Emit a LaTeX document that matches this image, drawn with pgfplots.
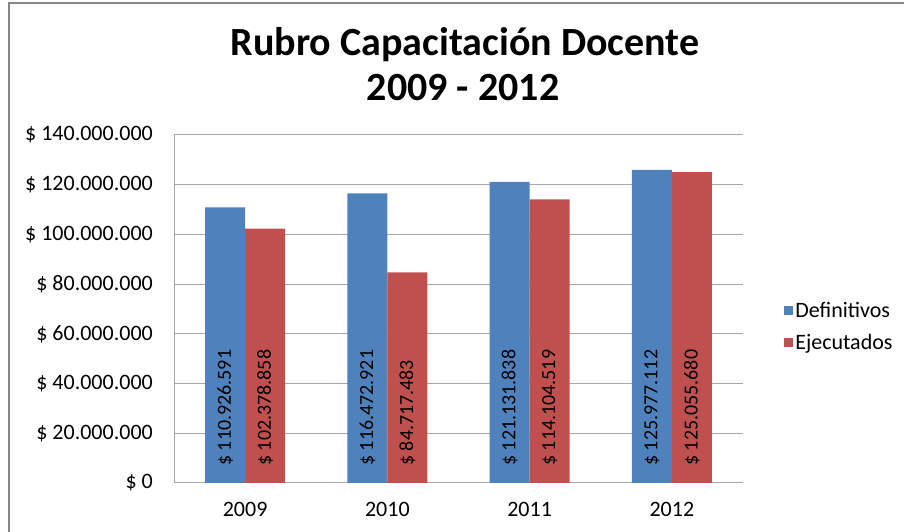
\documentclass[border=0pt]{standalone}
\usepackage{pgfplots}
\pgfplotsset{compat=1.18}
\usepackage{pgfplotstable}
\usepackage{fontspec}
\setmainfont{Carlito}
\definecolor{defblue}{HTML}{4F81BD}
\definecolor{ejered}{HTML}{C0504D}
\definecolor{gridgray}{HTML}{A6A6A6}
\definecolor{framegray}{HTML}{868686}

\pgfplotstableread{
x y label
0 110.926591 110.926.591
1 116.472921 116.472.921
2 121.131838 121.131.838
3 125.977112 125.977.112
}\definitivos
\pgfplotstableread{
x y label
0 102.378858 102.378.858
1 84.717483 84.717.483
2 114.104519 114.104.519
3 125.055680 125.055.680
}\ejecutados

\begin{document}
\begin{tikzpicture}[x=1pt,y=1pt]
\useasboundingbox (0,0) rectangle (904,532);
\draw[framegray, line width=2pt] (9,0) -- (9,529) -- (904,529);
\node[font=\fontsize{40}{45}\selectfont\bfseries, anchor=base, inner sep=0pt] at (465,476) {Rubro Capacitación Docente};
\node[font=\fontsize{40}{45}\selectfont\bfseries, anchor=base, inner sep=0pt] at (463,431) {2009 - 2012};
\begin{axis}[
 at={(174pt,49pt)}, anchor=south west,
 scale only axis, width=569pt, height=348pt,
 xmin=-0.5, xmax=3.5, ymin=0, ymax=140,
 ybar=0pt, bar width=40pt,
 xtick={0,1,2,3}, xticklabels={2009,2010,2011,2012},
 ytick={0,20,40,60,80,100,120,140},
 yticklabels={\$ 0,\$ 20.000.000,\$ 40.000.000,\$ 60.000.000,\$ 80.000.000,\$ 100.000.000,\$ 120.000.000,\$ 140.000.000},
 ymajorgrids, grid style={gridgray, line width=1pt},
 axis x line*=bottom, axis y line*=left,
 axis line style={gridgray, line width=1pt, -},
 major tick length=0pt,
 tick style={draw=none},
 ticklabel style={font=\fontsize{22}{26}\selectfont, inner sep=0pt},
 yticklabel style={anchor=east, xshift=-21pt},
 xticklabel style={anchor=north, yshift=-19pt},
 legend style={at={(1.067,0.450)}, anchor=west, draw=none, fill=none, font=\fontsize{22}{26}\selectfont, row sep=11pt, cells={anchor=west}},
 legend image code/.code={\fill[#1, draw=none] (0pt,-4.5pt) rectangle (9pt,4.5pt);},
 point meta=explicit symbolic,
 nodes near coords={\$ \pgfplotspointmeta},
 visualization depends on={y \as \rawy},
 every node near coord/.append style={shift={(axis direction cs:0,-\rawy)}, yshift=17pt, rotate=90, anchor=west, inner sep=0pt, font=\fontsize{20}{24}\selectfont, black},
]
\addplot[fill=defblue, draw=none] table[x=x,y=y,meta=label] {\definitivos};
\addplot[fill=ejered, draw=none] table[x=x,y=y,meta=label] {\ejecutados};
\legend{Definitivos, Ejecutados}
\end{axis}
\end{tikzpicture}
\end{document}
